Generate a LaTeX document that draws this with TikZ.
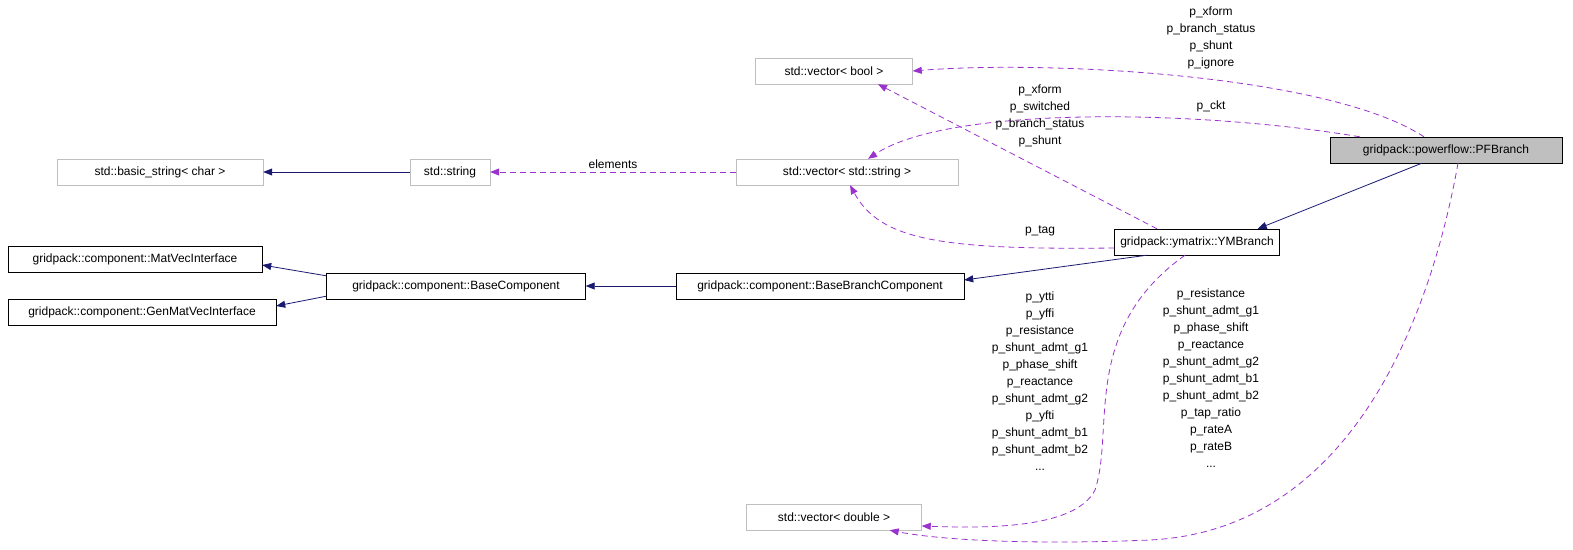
\documentclass[tikz,border=0pt]{standalone}
\usepackage{fontspec}
\setmainfont{Liberation Sans}
\usetikzlibrary{arrows.meta,positioning,calc}
\definecolor{inh}{HTML}{191970}
\definecolor{use}{HTML}{9A32CD}
\definecolor{ext}{HTML}{BFBFBF}
\tikzset{
    >={Triangle[length=9pt,width=7pt]},
    cls/.style={draw,rectangle,minimum height=26pt,inner sep=4pt,font=\fontsize{12}{15}\selectfont},
    extcls/.style={cls,draw=ext},
    isa/.style={->,draw=inh,line width=0.8pt},
    has/.style={->,draw=use,dashed,line width=0.8pt,dash pattern=on 6pt off 4pt},
    lbl/.style={align=center,inner sep=0pt,font=\fontsize{12}{17}\selectfont}
}
\begin{document}
\begin{tikzpicture}[x=1pt,y=-1pt]
    \useasboundingbox (0,0) rectangle (1573,549);
    % classes
    \node[cls,fill=ext,minimum width=232pt] (pf) at (1446,150) {gridpack::powerflow::PFBranch};
    \node[cls,minimum width=165pt] (ym) at (1197,242) {gridpack::ymatrix::YMBranch};
    \node[cls,minimum width=288pt] (bbc) at (820,286) {gridpack::component::BaseBranchComponent};
    \node[cls,minimum width=259pt] (bc) at (456,286) {gridpack::component::BaseComponent};
    \node[cls,minimum width=254pt] (mvi) at (135,259) {gridpack::component::MatVecInterface};
    \node[cls,minimum width=268pt] (gmvi) at (142,312) {gridpack::component::GenMatVecInterface};
    \node[extcls,minimum width=206pt] (bstr) at (160,172) {std::basic\_string< char >};
    \node[extcls,minimum width=80pt] (str) at (450,172) {std::string};
    \node[extcls,minimum width=222pt] (vstr) at (847,172) {std::vector< std::string >};
    \node[extcls,minimum width=157pt] (vbool) at (834,71) {std::vector< bool >};
    \node[extcls,minimum width=175pt] (vdbl) at (834,517) {std::vector< double >};

    % inheritance
    \draw[isa] (pf.south west) ++(92,0) -- ($(ym.north east)+(-22,0)$);
    \draw[isa] ($(ym.south)+(-50,0)$) -- ($(bbc.east)+(0,-6)$);
    \draw[isa] (bbc) -- (bc);
    \draw[isa] ($(bc.north west)+(0,3)$) -- ($(mvi.east)+(0,6)$);
    \draw[isa] ($(bc.south west)+(0,-3)$) -- ($(gmvi.east)+(0,-6)$);
    \draw[isa] (str) -- (bstr);

    % members
    \draw[has] (vstr) -- node[lbl,above=3pt] {elements} (str);
    \draw[has] ($(pf.north)+(-22,0)$) .. controls (1330,75) and (1050,60) .. (vbool.east);
    \node[lbl] at (1211,38) {p\_xform\\p\_branch\_status\\p\_shunt\\p\_ignore};
    \draw[has] ($(pf.north west)+(30,0)$) .. controls (1200,110) and (950,105) .. ($(vstr.north)+(21,0)$);
    \node[lbl] at (1211,106) {p\_ckt};
    \draw[has] ($(ym.north)+(-40,0)$) -- ($(vbool.south)+(44,0)$);
    \node[lbl] at (1040,116) {p\_xform\\p\_switched\\p\_branch\_status\\p\_shunt};
    \draw[has] ($(ym.west)+(0,6)$) .. controls (940,250) and (880,240) .. ($(vstr.south)+(3,0)$);
    \node[lbl] at (1040,231) {p\_tag};
    \draw[has] ($(ym.south)+(-12,0)$) .. controls (1080,330) and (1115,430) .. (1095,490)
        .. controls (1075,530) and (980,528) .. ($(vdbl.east)+(0,9)$);
    \node[lbl] at (1040,381) {p\_ytti\\p\_yffi\\p\_resistance\\p\_shunt\_admt\_g1\\p\_phase\_shift\\p\_reactance\\p\_shunt\_admt\_g2\\p\_yfti\\p\_shunt\_admt\_b1\\p\_shunt\_admt\_b2\\...};
    \draw[has] ($(pf.south)+(12,0)$) .. controls (1430,320) and (1350,530) .. (1150,540)
        .. controls (1030,545) and (940,540) .. ($(vdbl.south east)+(-32,0)$);
    \node[lbl] at (1211,378) {p\_resistance\\p\_shunt\_admt\_g1\\p\_phase\_shift\\p\_reactance\\p\_shunt\_admt\_g2\\p\_shunt\_admt\_b1\\p\_shunt\_admt\_b2\\p\_tap\_ratio\\p\_rateA\\p\_rateB\\...};
\end{tikzpicture}
\end{document}
